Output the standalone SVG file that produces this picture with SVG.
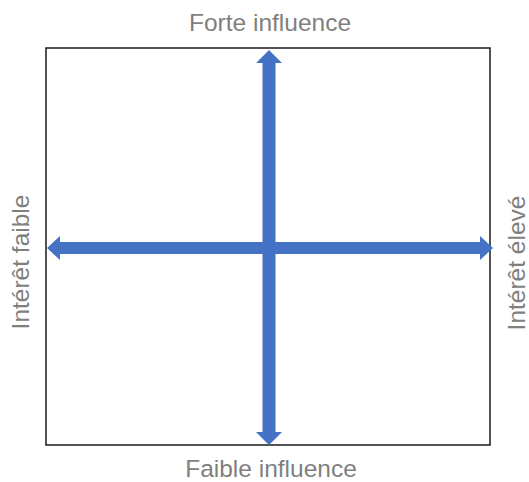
<svg xmlns="http://www.w3.org/2000/svg" width="529" height="482" viewBox="0 0 529 482">
<style>
.lbl{font-family:"Liberation Sans",Arial,sans-serif;font-size:24.5px;fill:#7f7f7f;text-anchor:middle}
.ar{fill:#4472c4}
</style>
<rect width="529" height="482" fill="#fff"/>
<g id="frame"><rect x="46" y="48" width="444" height="397" fill="none" stroke="#1a1a1a" stroke-width="1.5"/></g>
<g id="connectors">
<polygon class="ar" points="269,50 282,63 275.5,63 275.5,432 282,432 269,445 256,432 262.5,432 262.5,63 256,63"/>
<polygon class="ar" points="47,248 60,236 60,242 480,242 480,236 493,248 480,260 480,254 60,254 60,260"/>
</g>
<g id="top"><text class="lbl" x="270" y="31">Forte influence</text></g>
<g id="bottom"><text class="lbl" x="271" y="477">Faible influence</text></g>
<g id="left"><text class="lbl" transform="translate(28.5,262) rotate(-90)">Intérêt faible</text></g>
<g id="right"><text class="lbl" transform="translate(525,263) rotate(-90)">Intérêt élevé</text></g>
</svg>
